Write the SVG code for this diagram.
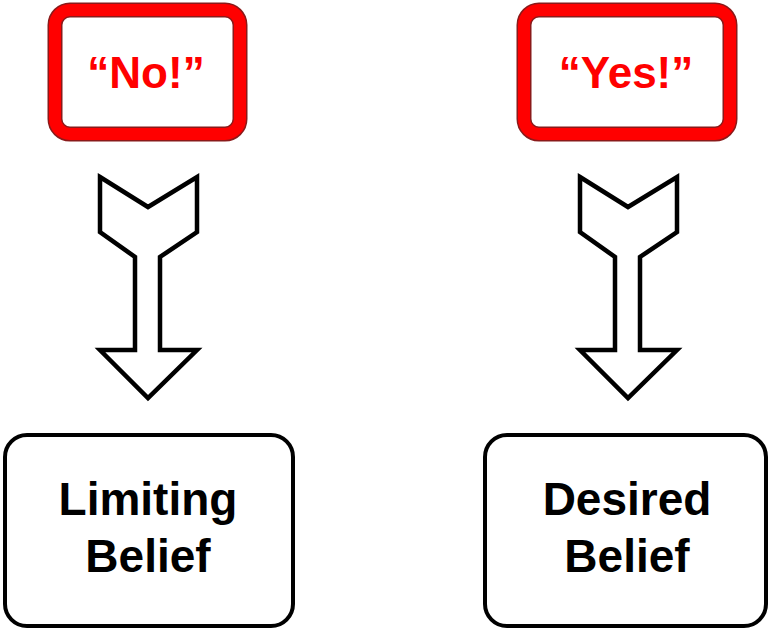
<svg xmlns="http://www.w3.org/2000/svg" width="774" height="631" viewBox="0 0 774 631">
<style>
.redo{fill:#fff;stroke:#8a1a1a;stroke-width:15}
.redi{fill:none;stroke:#f00;stroke-width:12}
.rt{font-family:"Liberation Sans",Arial,sans-serif;font-weight:bold;font-size:44px;fill:#f00;text-anchor:middle}
.bx{fill:#fff;stroke:#000;stroke-width:4}
.bt{font-family:"Liberation Sans",Arial,sans-serif;font-weight:bold;font-size:46px;fill:#000;text-anchor:middle}
.ar{fill:#fff;stroke:#000;stroke-width:4.5;stroke-linejoin:miter}
</style>
<defs>
<path id="arrow" class="ar" d="M-48,177 L0,207 L49,177 L49,232 L12,257 L12,350 L49,350 L0,398 L-48,350 L-13,350 L-13,257 L-48,232 Z"/>
</defs>
<g id="no">
<rect class="redo" x="55" y="10" width="185" height="124" rx="15"/>
<rect class="redi" x="55" y="10" width="185" height="124" rx="15"/>
<text class="rt" x="146" y="88">“No!”</text>
</g>
<g id="yes">
<rect class="redo" x="524" y="10" width="206" height="124" rx="15"/>
<rect class="redi" x="524" y="10" width="206" height="124" rx="15"/>
<text class="rt" x="626" y="88">“Yes!”</text>
</g>
<g id="connectors">
<use href="#arrow" x="148"/>
<use href="#arrow" x="628"/>
</g>
<g id="limiting">
<rect class="bx" x="5" y="435" width="288" height="191" rx="22"/>
<text class="bt" x="148" y="515">Limiting</text>
<text class="bt" x="148" y="572">Belief</text>
</g>
<g id="desired">
<rect class="bx" x="485" y="435" width="281" height="191" rx="22"/>
<text class="bt" x="627" y="515">Desired</text>
<text class="bt" x="627" y="572">Belief</text>
</g>
</svg>
